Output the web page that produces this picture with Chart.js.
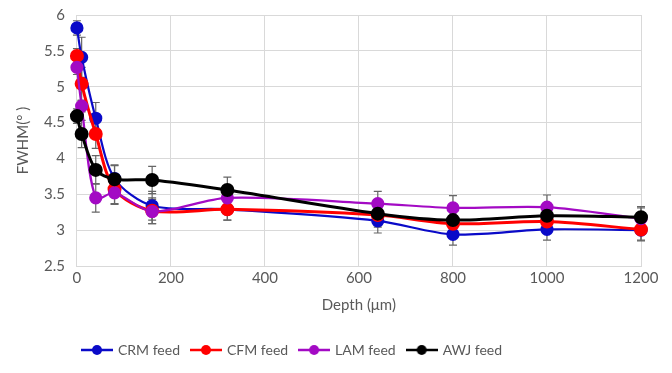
<!DOCTYPE html>
<html>
<head>
<meta charset="utf-8">
<script src="https://cdn.jsdelivr.net/npm/chart.js@4"></script>
<style>
  html, body { margin: 0; padding: 0; background: #fff; }
  #wrap { width: 672px; height: 373px; }
</style>
</head>
<body>
<div id="wrap"><canvas id="chartFwhm"></canvas></div>
<script>
const depths = [0, 10, 40, 80, 160, 320, 640, 800, 1000, 1200];
const crmFeed = [5.82, 5.41, 4.56, 3.72, 3.34, 3.29, 3.13, 2.94, 3.01, 3.00];
const cfmFeed = [5.43, 5.04, 4.34, 3.57, 3.27, 3.29, 3.21, 3.09, 3.12, 3.01];
const lamFeed = [5.27, 4.73, 3.45, 3.52, 3.26, 3.45, 3.37, 3.31, 3.32, 3.16];
const awjFeed = [4.59, 4.34, 3.84, 3.71, 3.70, 3.56, 3.23, 3.14, 3.20, 3.18];
const crmErr = [0.10, 0.28, 0.22, 0.18, 0.20, 0.15, 0.17, 0.15, 0.15, 0.15];
const cfmErr = [0.10, 0.23, 0.20, 0.20, 0.18, 0.15, 0.17, 0.15, 0.15, 0.15];
const lamErr = [0.10, 0.08, 0.20, 0.16, 0.17, 0.15, 0.17, 0.17, 0.17, 0.15];
const awjErr = [0.10, 0.19, 0.20, 0.20, 0.19, 0.18, 0.17, 0.15, 0.15, 0.15];

const seriesNames = ['CRM feed', 'CFM feed', 'LAM feed', 'AWJ feed'];
const seriesColors = ['#0a0ac8', '#ff0000', '#a30ac4', '#000000'];

// legend picture: short line with the marker in the middle
function makeIcon(color) {
    const c = document.createElement('canvas');
    c.width = 32; c.height = 12;
    const g = c.getContext('2d');
    g.strokeStyle = color; g.lineWidth = 2.5;
    g.beginPath(); g.moveTo(0, 6); g.lineTo(32, 6); g.stroke();
    g.fillStyle = color;
    g.beginPath(); g.arc(16, 6, 5, 0, Math.PI * 2); g.fill();
    return c;
}

function series(i, values, errs) {
    return {
        label: seriesNames[i],
        data: depths.map((d, k) => ({ x: d, y: values[k], err: errs[k] })),
        borderColor: seriesColors[i],
        backgroundColor: seriesColors[i],
        borderWidth: (i === 1 || i === 3) ? 3 : 2.2,
        pointStyle: 'circle',
        pointRadius: 5.5,
        pointHoverRadius: 5.5,
        tension: 0.3,
        clip: false,
        order: 4 - i
    };
}

const errorBars = {
    id: 'errorBars',
    beforeDatasetsDraw(chart) {
        const ctx = chart.ctx;
        const xs = chart.scales.x, ys = chart.scales.y;
        ctx.save();
        ctx.strokeStyle = '#666666';
        ctx.lineWidth = 1.2;
        chart.data.datasets.forEach(ds => {
            ds.data.forEach(p => {
                const x = xs.getPixelForValue(p.x);
                const top = ys.getPixelForValue(p.y + p.err);
                const bot = ys.getPixelForValue(p.y - p.err);
                ctx.beginPath();
                ctx.moveTo(x, top); ctx.lineTo(x, bot);
                ctx.moveTo(x - 4, top); ctx.lineTo(x + 4, top);
                ctx.moveTo(x - 4, bot); ctx.lineTo(x + 4, bot);
                ctx.stroke();
            });
        });
        ctx.restore();
    }
};

// the legend in the original sits a bit left of centre
const legendShift = {
    id: 'legendShift',
    afterLayout(chart) {
        chart.legend.left -= 33;
        chart.legend.right -= 33;
    }
};

Chart.defaults.font.family = 'Lato, "Open Sans", sans-serif';
Chart.defaults.color = '#595959';

const ctxFwhm = document.getElementById('chartFwhm').getContext('2d');
const chartFwhm = new Chart(ctxFwhm, {
    type: 'line',
    data: {
        datasets: [
            series(0, crmFeed, crmErr),
            series(1, cfmFeed, cfmErr),
            series(2, lamFeed, lamErr),
            series(3, awjFeed, awjErr)
        ]
    },
    options: {
        responsive: true,
        maintainAspectRatio: false,
        animation: false,
        layout: { padding: { top: 15, right: 31, left: 10, bottom: 6 } },
        scales: {
            x: {
                type: 'linear',
                min: 0, max: 1200,
                ticks: { stepSize: 200, font: { size: 15 }, padding: 3, callback: v => String(v) },
                grid: { color: '#d9d9d9', drawTicks: false },
                border: { color: '#d9d9d9' },
                title: { display: true, text: 'Depth (μm)', font: { size: 15 }, padding: { top: 6, bottom: 17 } }
            },
            y: {
                min: 2.5, max: 6,
                ticks: { stepSize: 0.5, font: { size: 15 }, padding: 12, callback: v => String(v) },
                grid: { color: '#d9d9d9', drawTicks: false },
                border: { color: '#d9d9d9' },
                title: { display: true, text: 'FWHM(° )', font: { size: 15 }, padding: { top: 4, bottom: 0 } },
                afterFit(scale) { scale.paddingTop = 0; }
            }
        },
        plugins: {
            legend: {
                position: 'bottom',
                labels: {
                    usePointStyle: true,
                    pointStyleWidth: 28,
                    font: { size: 14 },
                    padding: 12,
                    generateLabels(chart) {
                        return chart.data.datasets.map((ds, i) => ({
                            text: ds.label,
                            pointStyle: makeIcon(seriesColors[i]),
                            fillStyle: seriesColors[i],
                            strokeStyle: seriesColors[i],
                            lineWidth: 0,
                            fontColor: '#595959',
                            datasetIndex: i
                        }));
                    }
                }
            },
            tooltip: { enabled: false }
        }
    },
    plugins: [errorBars, legendShift]
});
</script>
</body>
</html>
